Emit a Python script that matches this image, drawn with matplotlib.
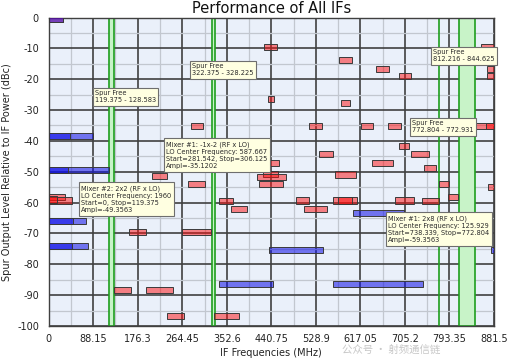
import matplotlib
matplotlib.use('Agg')
import matplotlib.pyplot as plt
from matplotlib.ticker import FixedLocator, MultipleLocator
import numpy as np

# ---------------- data ----------------
x_ticks = [0, 88.15, 176.3, 264.45, 352.6, 440.75, 528.9, 617.05, 705.2, 793.35, 881.5]
x_tick_labels = ['0', '88.15', '176.3', '264.45', '352.6', '440.75', '528.9',
                 '617.05', '705.2', '793.35', '881.5']
y_ticks = [0, -10, -20, -30, -40, -50, -60, -70, -80, -90, -100]

red_start = [0, 0, 0, 0, 128.7, 192, 159, 264.5, 204, 276.4, 281.542, 337, 361,
             233.6, 327.8, 427, 433.5, 428, 425, 412, 416, 516, 535.7, 489, 506,
             567, 563.4, 572, 574.7, 579, 617.6, 639.4, 648, 672.3, 685.5, 693.5,
             694, 716.6, 743.5, 738.339, 773, 790, 845, 866, 856, 867, 868, 869]
red_stop = [29, 33, 47, 16, 163, 246.7, 192, 320.7, 233.6, 309.4, 306.125, 365.6, 393,
            268.4, 376.7, 452.5, 446, 455, 454, 470, 464, 542, 563.4, 516, 550,
            608, 611, 601, 601, 597, 641.4, 682, 673, 697.4, 723, 717.3,
            714, 752.8, 766, 772.804, 793, 811, 881.5, 881.5, 881.5, 881.5, 881.5, 881.5]
red_ampl = [-0.3, -58.3, -59.3, -59.0, -88.2, -88.2, -69.5, -69.5, -51.5, -53.9, -35.12,
            -59.4, -62.2, -96.7, -96.7, -9.5, -26.3, -47.2, -50.7, -51.7, -54.0, -35.2,
            -44.2, -59.3, -62.1, -50.9, -59.3, -59.3, -13.9, -27.8, -35.2, -47.2, -16.8,
            -35.2, -59.3, -18.9, -41.6, -44.2, -48.9, -59.356, -54.1, -58.1, -35.2, -35.2,
            -9.5, -16.8, -18.9, -54.9]

blue_start = [0, 0, 0, 0, 0, 0, 0, 0, 0, 337.7, 563.4, 603, 436, 876]
blue_stop = [29, 88, 42, 119.375, 39, 73, 49, 77, 46, 444.6, 741.6, 703, 542.5, 881.5]
blue_ampl = [-0.3, -38.3, -38.3, -49.356, -49.356, -65.9, -65.9, -74.0, -74.0,
             -86.4, -86.4, -63.5, -75.3, -75.3]

spur_free_start = [119.375, 322.375, 772.804, 812.216]
spur_free_stop = [128.583, 328.225, 772.931, 844.625]

tooltip_texts = [
    "Spur Free\n119.375 - 128.583",
    "Spur Free\n322.375 - 328.225",
    "Mixer #1: -1x-2 (RF x LO)\nLO Center Frequency: 587.667\nStart=281.542, Stop=306.125\nAmpl=-35.1202",
    "Mixer #2: 2x2 (RF x LO)\nLO Center Frequency: 1960\nStart=0, Stop=119.375\nAmpl=-49.3563",
    "Spur Free\n772.804 - 772.931",
    "Spur Free\n812.216 - 844.625",
    "Mixer #1: 2x8 (RF x LO)\nLO Center Frequency: 125.929\nStart=738.339, Stop=772.804\nAmpl=-59.3563",
]

# ---------------- layout ----------------
W, H = 515, 361
fig = plt.figure(figsize=(W / 100, H / 100), dpi=100)
fig.patch.set_facecolor('white')

L, R, T, B = 48.7, 494.0, 17.5, 326.0
ax = fig.add_axes([L / W, 1 - B / H, (R - L) / W, (B - T) / H])
ax.set_facecolor('#eaf0fa')
ax.set_xlim(x_ticks[0], x_ticks[-1])
ax.set_ylim(y_ticks[-1], y_ticks[0])

ax.set_xticks(x_ticks)
ax.set_xticklabels(x_tick_labels)
ax.set_yticks(y_ticks)
ax.set_yticklabels([str(v) for v in y_ticks])
minor_x = [(a + b) / 2 for a, b in zip(x_ticks[:-1], x_ticks[1:])]
ax.xaxis.set_minor_locator(FixedLocator(minor_x))
ax.yaxis.set_minor_locator(MultipleLocator(5))
ax.set_axisbelow(True)
ax.grid(which='major', color='#404040', lw=1.2)
ax.grid(which='minor', color='#c2c7cf', lw=0.9)
ax.tick_params(which='both', length=0, labelsize=7, colors='#222222')
ax.tick_params(axis='x', pad=6)
ax.tick_params(axis='y', pad=7)
for s in ax.spines.values():
    s.set_color('#404040')
    s.set_linewidth(1.0)

# spur-free zones
for s, e in zip(spur_free_start, spur_free_stop):
    ax.axvspan(s, e, facecolor='#c8f3c8', edgecolor='#1e9e1e', lw=1.2, zorder=2)

# spur bars
rs = np.array(red_start); re_ = np.array(red_stop)
ax.barh(red_ampl, re_ - rs, left=rs, height=2.0, color=(1.0, 0.05, 0.05, 0.5),
        edgecolor='#3a3a3a', linewidth=0.7, zorder=3)
bs = np.array(blue_start); be = np.array(blue_stop)
ax.barh(blue_ampl, be - bs, left=bs, height=2.0, color=(0.05, 0.05, 0.9, 0.55),
        edgecolor='#3a3a3a', linewidth=0.7, zorder=3)

ax.set_title('Performance of All IFs', fontsize=10.5, color='#111111', pad=3)
ax.set_xlabel('IF Frequencies (MHz)', fontsize=7, color='#222222', labelpad=3)
ax.set_ylabel('Spur Output Level Relative to IF Power (dBc)', fontsize=7,
              color='#222222', labelpad=4)

# tooltips (pixel positions of box top-left)
tooltip_pos = [(93, 88), (190, 61), (164, 139), (79, 183), (410, 118), (431, 47), (386, 213)]
for (px, py), txt in zip(tooltip_pos, tooltip_texts):
    fig.text((px + 2) / W, 1 - (py + 2) / H, txt, ha='left', va='top', fontsize=4.8,
             color='#2a2a2a', linespacing=1.25, zorder=20,
             bbox=dict(boxstyle='square,pad=0.35', fc='#ffffe1', ec='#6e6e6e', lw=0.8))

# watermark
fig.text(0.665, 1 - 350 / H, '公众号 · 射频通信链', fontsize=7.5, color='#9a9a9a', alpha=0.55,
         family=['Noto Sans CJK SC', 'DejaVu Sans'], ha='left', va='center', zorder=30)

fig.savefig('out.png', dpi=100, facecolor='white')
